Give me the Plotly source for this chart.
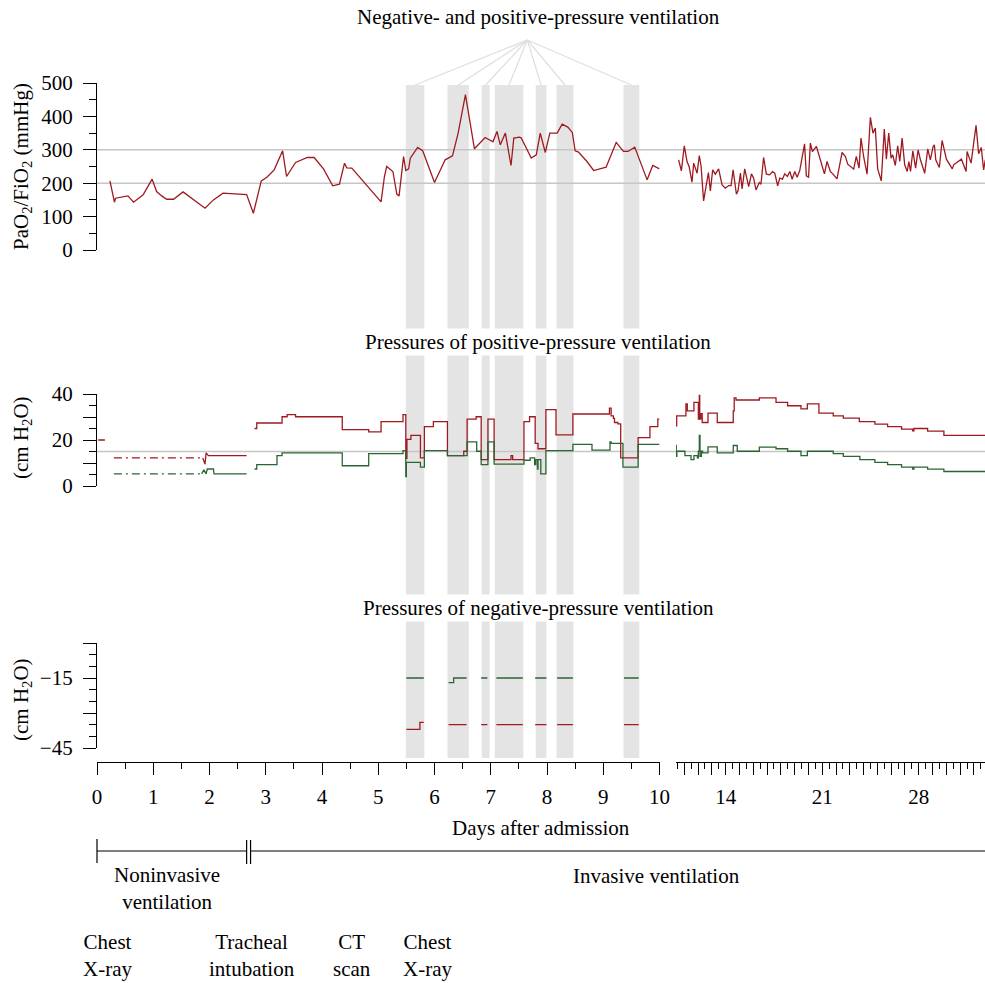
import plotly.graph_objects as go

W, H = 985, 983

# ---------------- data ----------------
# negative-pressure ventilation sessions (days)
np_start = [5.49, 6.23, 6.84, 7.07, 7.80, 8.17, 9.36]
np_end   = [5.82, 6.61, 6.98, 7.58, 7.99, 8.47, 9.64]

# PaO2/FiO2, days 0-10
pf_day_a = [0.23, 0.31, 0.33, 0.55, 0.65, 0.82, 0.98, 1.06, 1.15, 1.24, 1.36, 1.53, 1.92, 2.07, 2.24,
            2.66, 2.78, 2.92, 3.02, 3.15, 3.30, 3.37, 3.53, 3.74, 3.86, 4.03, 4.19, 4.31, 4.40, 4.44,
            4.53, 5.05, 5.11, 5.15, 5.26, 5.33, 5.37, 5.45, 5.49, 5.54, 5.57, 5.70, 5.79, 6.00, 6.19,
            6.32, 6.42, 6.55, 6.71, 6.90, 7.04, 7.11, 7.17, 7.26, 7.36, 7.41, 7.51, 7.54, 7.72, 7.81,
            7.88, 7.97, 8.05, 8.18, 8.27, 8.37, 8.45, 8.50, 8.56, 8.71, 8.83, 8.94, 9.05, 9.23, 9.36,
            9.44, 9.56, 9.78, 9.88, 10.0]
pf_val_a = [207, 143, 155, 162, 143, 165, 212, 175, 162, 152, 152, 174, 125, 150, 170,
            166, 110, 207, 218, 240, 297, 220, 262, 277, 277, 242, 192, 197, 260, 246,
            245, 144, 220, 250, 235, 167, 162, 280, 238, 243, 275, 307, 297, 202, 270,
            282, 350, 465, 303, 337, 324, 355, 315, 350, 253, 335, 338, 336, 275, 285,
            350, 292, 350, 350, 377, 368, 352, 297, 293, 265, 238, 242, 248, 322, 295,
            295, 308, 210, 253, 243]

# PaO2/FiO2, days 10-33
pf_day_b = [10.59, 10.79, 11.0, 11.2, 11.35, 11.56, 11.68, 11.93, 12.09, 12.22, 12.4, 12.6, 12.75, 12.89,
            13.06, 13.25, 13.49, 13.74, 13.98, 14.22, 14.39, 14.54, 14.78, 14.9, 15.07, 15.19, 15.38,
            15.67, 15.87, 16.03, 16.2, 16.44, 16.56, 16.75, 16.95, 17.19, 17.39, 17.56, 17.77, 17.92,
            18.12, 18.28, 18.48, 18.65, 18.82, 19.01, 19.18, 19.37, 19.72, 19.85, 20.01, 20.14, 20.29,
            20.58, 21.16, 21.35, 21.59, 21.83, 22.07, 22.44, 22.68, 22.85, 23.28, 23.47, 23.67, 23.81,
            24.0, 24.25, 24.49, 24.68, 24.85, 25.02, 25.28, 25.5, 25.65, 25.82, 25.99, 26.11, 26.3,
            26.47, 26.62, 26.79, 26.98, 27.16, 27.28, 27.4, 27.57, 27.77, 27.95, 28.12, 28.43, 28.65,
            28.84, 29.04, 29.13, 29.23, 29.49, 29.69, 30.0, 30.43, 30.53, 31.09, 31.43, 31.5, 31.79,
            32.15, 32.34, 32.53, 32.7, 32.82]
pf_val_b = [270, 237, 312, 265, 250, 203, 260, 230, 283, 250, 147, 200, 232, 177,
            240, 227, 243, 195, 185, 193, 193, 240, 167, 178, 230, 183, 243,
            190, 228, 215, 180, 202, 197, 277, 227, 225, 235, 230, 192, 215,
            212, 228, 220, 235, 212, 235, 218, 238, 318, 222, 218, 320, 295,
            310, 228, 265, 235, 225, 213, 292, 280, 257, 242, 280, 245, 335,
            280, 227, 397, 350, 365, 243, 207, 362, 272, 350, 275, 285, 253,
            312, 265, 335, 255, 235, 265, 235, 297, 245, 300, 270, 230, 303,
            270, 310, 315, 270, 247, 328, 272, 243, 255, 272, 235, 295, 260,
            373, 288, 307, 240, 270]

# positive-pressure ventilation: noninvasive period (dash-dot part, then solid part)
ni_day_dash = [0.30, 1.88]
ni_red_dash = [12.2, 12.2]
ni_grn_dash = [5.3, 5.3]
ni_red_day = [1.88, 1.92, 1.94, 1.98, 2.66]
ni_red_val = [12.2, 9.5, 14.4, 13.2, 13.2]
ni_grn_day = [1.86, 1.90, 1.94, 1.96, 2.07, 2.08, 2.66]
ni_grn_val = [5.3, 7.0, 5.3, 7.4, 7.4, 5.3, 5.3]
first_day = [0.02, 0.14]
first_red = [20, 20]

# positive-pressure ventilation, invasive, days 2.8-10 (step values)
pp_red_day_a = [2.80, 2.84, 3.29, 3.38, 3.53, 4.36, 4.83, 5.05, 5.44, 5.49, 5.51, 5.58, 5.75, 5.82,
                5.98, 6.23, 6.52, 6.58, 6.74, 6.83, 6.95, 7.06, 7.36, 7.39, 7.59, 7.69, 7.79, 7.84,
                7.98, 8.16, 8.46, 9.11, 9.14, 9.18, 9.20, 9.26, 9.31, 9.62, 9.83, 9.97, 10.0]
pp_red_val_a = [25, 27.4, 30.1, 31.0, 30.1, 24.5, 23.5, 28.0, 31.0, 12.0, 20.3, 22.0, 12.2, 25.8,
                28.0, 13.2, 15.1, 29.1, 30.1, 11.5, 29.1, 11.5, 13.2, 11.5, 28.0, 30.1, 18.5, 16.2,
                33.2, 22.2, 31.3, 33.9, 30.5, 29.4, 27.6, 27.0, 12.2, 21.0, 25.8, 29.1, 29.1]
pp_grn_day_a = [2.80, 2.84, 3.20, 3.29, 4.36, 4.83, 5.21, 5.44, 5.49, 5.50, 5.75, 5.82, 6.23, 6.58,
                6.75, 6.83, 6.95, 7.06, 7.59, 7.70, 7.78, 7.80, 7.83, 7.84, 7.89, 7.98, 8.46, 8.80,
                9.12, 9.14, 9.35, 9.62, 10.0]
pp_grn_val_a = [7.4, 9.3, 13.2, 14.4, 8.8, 14.1, 14.1, 15.4, 4.1, 10.3, 8.2, 15.4, 13.2, 19.2,
                15.1, 9.3, 19.2, 9.5, 11.2, 12.2, 9.3, 11.5, 7.3, 11.5, 5.3, 15.4, 18.1, 15.6,
                19.2, 18.5, 8.2, 18.1, 18.1]

# positive-pressure ventilation, days 10-33 (step values)
pp_red_day_b = [10.40, 10.45, 11.12, 11.22, 11.70, 12.02, 12.09, 12.12, 12.20, 12.30, 12.72, 13.39,
                14.55, 14.62, 14.75, 16.44, 17.65, 18.49, 19.46, 19.92, 20.76, 21.80, 22.53, 23.69,
                24.82, 25.74, 26.75, 27.55, 27.65, 28.64, 29.82, 32.8]
pp_red_val_b = [26.1, 30.5, 35.7, 32.7, 36.4, 29.1, 39.4, 29.1, 31.5, 27.6, 31.7, 27.6,
                32.7, 38.3, 37.4, 38.3, 36.4, 34.9, 33.5, 35.7, 31.7, 30.5, 29.5, 28.0,
                26.9, 25.8, 24.7, 24.0, 25.0, 23.9, 22.0, 22.0]
pp_grn_day_b = [10.40, 10.42, 10.46, 11.05, 11.49, 11.70, 11.95, 12.02, 12.09, 12.14, 12.24, 12.33,
                12.72, 13.39, 14.55, 14.84, 16.44, 17.65, 18.49, 19.46, 19.92, 21.80, 22.53, 23.73,
                24.82, 25.74, 26.75, 27.55, 27.65, 28.64, 29.82, 32.8]
pp_grn_val_b = [17.6, 12.9, 15.1, 13.2, 11.5, 13.2, 12.2, 15.1, 22.0, 12.9, 15.1, 14.4,
                17.0, 14.4, 17.6, 15.1, 16.9, 16.2, 15.1, 13.2, 15.1, 14.1, 12.9, 11.5,
                10.3, 9.3, 8.2, 7.3, 8.2, 7.3, 6.3, 6.3]

# negative-pressure ventilation pressures (None = pause)
neg_red_day = [5.50, 5.74, 5.81, None, 6.25, 6.57, None, 6.83, 6.94, None, 7.10, 7.57, None,
               7.79, 7.99, None, 8.18, 8.46, None, 9.37, 9.63]
neg_red_val = [-37, -34, -34, None, -35, -35, None, -35, -35, None, -35, -35, None,
               -35, -35, None, -35, -35, None, -35, -35]
neg_grn_day = [5.50, 5.81, None, 6.25, 6.34, 6.57, None, 6.83, 6.94, None, 7.10, 7.57, None,
               7.79, 7.99, None, 8.18, 8.46, None, 9.37, 9.63]
neg_grn_val = [-15, -15, None, -17, -15, -15, None, -15, -15, None, -15, -15, None,
               -15, -15, None, -15, -15, None, -15, -15]

pf_ref = [200, 300]
pp_ref = [15]

left_ticks = list(range(0, 11))
right_labels = [14, 21, 28]

events = [(0.18, "Chest<br>X-ray"), (2.76, "Tracheal<br>intubation"),
          (4.54, "CT<br>scan"), (5.87, "Chest<br>X-ray")]
nonivs_end, ivs_start = 2.66, 2.73

# ---------------- layout helpers ----------------
def px(x):
    return x / W

def py(y):
    return 1 - y / H

XL = [px(97), px(659.5)]
XR = [px(676), 1.0]
XL_RANGE = [0, 10]
XR_RANGE = [10.4, 32.8]

def day_to_paper(d):
    return XL[0] + (d - XL_RANGE[0]) / (XL_RANGE[1] - XL_RANGE[0]) * (XL[1] - XL[0])

RED = '#9e1a20'
GRN = '#2b6531'
FONT = 'Liberation Serif'
FS = 21

fig = go.Figure()

def line(x, y, xa, ya, color, dash='solid', shape='linear', width=1.3):
    fig.add_trace(go.Scatter(x=x, y=y, xaxis=xa, yaxis=ya, mode='lines',
                             line=dict(color=color, width=width, dash=dash, shape=shape),
                             hoverinfo='skip', showlegend=False))

# top panel
line(pf_day_a, pf_val_a, 'x', 'y', RED)
line(pf_day_b, pf_val_b, 'x2', 'y', RED)
# middle panel
line(first_day, first_red, 'x', 'y2', RED)
line(ni_day_dash, ni_red_dash, 'x', 'y2', RED, dash='8px,4px,2px,4px')
line(ni_day_dash, ni_grn_dash, 'x', 'y2', GRN, dash='8px,4px,2px,4px')
line(ni_red_day, ni_red_val, 'x', 'y2', RED)
line(ni_grn_day, ni_grn_val, 'x', 'y2', GRN)
line(pp_red_day_a, pp_red_val_a, 'x', 'y2', RED, shape='hv')
line(pp_grn_day_a, pp_grn_val_a, 'x', 'y2', GRN, shape='hv')
line(pp_red_day_b, pp_red_val_b, 'x2', 'y2', RED, shape='hv')
line(pp_grn_day_b, pp_grn_val_b, 'x2', 'y2', GRN, shape='hv')
# bottom panel
line(neg_red_day, neg_red_val, 'x', 'y3', RED, shape='hv')
line(neg_grn_day, neg_grn_val, 'x', 'y3', GRN, shape='hv')

# ---------------- shapes ----------------
shapes = []
bar_top, bar_bot = py(85), py(758)
for s, e in zip(np_start, np_end):
    shapes.append(dict(type='rect', xref='x', yref='paper', x0=s, x1=e, y0=bar_bot, y1=bar_top,
                       fillcolor='#e4e4e4', line=dict(width=0), layer='below'))
# fan lines from title to bars
apex_day = 7.65
for s, e in zip(np_start, np_end):
    shapes.append(dict(type='line', xref='x', yref='paper', x0=apex_day, y0=py(40),
                       x1=(s + e) / 2, y1=bar_top, line=dict(color='#dedede', width=1.2), layer='below'))
# reference lines
for v in pf_ref:
    shapes.append(dict(type='line', xref='paper', yref='y', x0=XL[0], x1=1, y0=v, y1=v,
                       line=dict(color='#c6c6c6', width=1.5), layer='below'))
for v in pp_ref:
    shapes.append(dict(type='line', xref='paper', yref='y2', x0=XL[0], x1=1, y0=v, y1=v,
                       line=dict(color='#c6c6c6', width=1.5), layer='below'))
# timeline
ty = py(851)
tl = dict(color='black', width=1.2)
shapes += [
    dict(type='line', xref='paper', yref='paper', x0=day_to_paper(0), x1=day_to_paper(nonivs_end),
         y0=ty, y1=ty, line=tl),
    dict(type='line', xref='paper', yref='paper', x0=day_to_paper(0), x1=day_to_paper(0),
         y0=py(839), y1=py(863), line=tl),
    dict(type='line', xref='paper', yref='paper', x0=day_to_paper(nonivs_end), x1=day_to_paper(nonivs_end),
         y0=py(840), y1=py(864), line=tl),
    dict(type='line', xref='paper', yref='paper', x0=day_to_paper(ivs_start), x1=day_to_paper(ivs_start),
         y0=py(840), y1=py(864), line=tl),
    dict(type='line', xref='paper', yref='paper', x0=day_to_paper(ivs_start), x1=1,
         y0=ty, y1=ty, line=tl),
]

# ---------------- annotations ----------------
ann = []
def text(x, y, t, size=FS, xref='paper', bg=None, angle=0, xanchor='center', yanchor='middle'):
    d = dict(x=x, y=y, xref=xref, yref='paper', text=t, showarrow=False, textangle=angle,
             font=dict(family=FONT, size=size, color='black'), xanchor=xanchor, yanchor=yanchor)
    if bg:
        d['bgcolor'] = bg
        d['borderpad'] = 1
    ann.append(d)

text(px(538), py(17), 'Negative- and positive-pressure ventilation', bg='white')
text(px(538), py(342), 'Pressures of positive-pressure ventilation', bg='white')
text(px(538), py(608), 'Pressures of negative-pressure ventilation', bg='white')
text(px(22), py(167), 'PaO<sub>2</sub>/FiO<sub>2</sub> (mmHg)', angle=-90)
text(px(22), py(438), '(cm H<sub>2</sub>O)', angle=-90)
text(px(22), py(700), '(cm H<sub>2</sub>O)', angle=-90)
text(px(541), py(828), 'Days after admission')
text(day_to_paper(1.25), py(888), 'Noninvasive<br>ventilation')
text(px(656), py(876), 'Invasive ventilation')
for d, t in events:
    text(day_to_paper(d), py(955), t)

# ---------------- axes ----------------
axis_common = dict(showline=True, linecolor='black', linewidth=1.3, ticks='outside', tickcolor='black',
                   tickwidth=1.3, showgrid=False, zeroline=False, automargin=False,
                   tickfont=dict(family=FONT, size=FS, color='black'), fixedrange=True)

fig.update_layout(
    width=W, height=H, margin=dict(l=0, r=0, t=0, b=0),
    paper_bgcolor='white', plot_bgcolor='rgba(0,0,0,0)', showlegend=False,
    shapes=shapes, annotations=ann,
    xaxis=dict(domain=XL, range=XL_RANGE, anchor='free', position=py(762),
               tickvals=left_ticks, ticklen=12, ticklabelstandoff=4,
               minor=dict(tickvals=[t + 0.5 for t in left_ticks[:-1]], ticklen=6, ticks='outside',
                          tickcolor='black', tickwidth=1.3),
               **axis_common),
    xaxis2=dict(domain=XR, range=XR_RANGE, anchor='free', position=py(762),
                tickvals=list(range(11, 33)),
                ticktext=[str(t) if t in right_labels else '' for t in range(11, 33)], ticklen=12,
                ticklabelstandoff=4,
                minor=dict(tickvals=[t + 0.5 for t in range(10, 33)], ticklen=6, ticks='outside',
                           tickcolor='black', tickwidth=1.3),
                **axis_common),
    yaxis=dict(domain=[py(250), py(83)], range=[0, 500], anchor='x', tickvals=list(range(0, 501, 100)),
               ticklen=13, ticklabelstandoff=6,
               minor=dict(tickvals=list(range(50, 500, 100)), ticklen=7, ticks='outside',
                          tickcolor='black', tickwidth=1.3),
               **axis_common),
    yaxis2=dict(domain=[py(486), py(394)], range=[0, 40], anchor='x', tickvals=[0, 10, 20, 30, 40],
                ticktext=['0', '', '20', '', '40'], ticklen=13, ticklabelstandoff=6,
                minor=dict(tickvals=[5, 15, 25, 35], ticklen=7, ticks='outside', tickcolor='black',
                           tickwidth=1.3),
                **axis_common),
    yaxis3=dict(domain=[py(748), py(643)], range=[-45, 0], anchor='x', tickvals=[-45, -30, -15, 0],
                ticktext=['\u221245', '', '\u221215', ''], ticklen=13, ticklabelstandoff=6,
                minor=dict(tickvals=[-40, -35, -25, -20, -10, -5], ticklen=7, ticks='outside',
                           tickcolor='black', tickwidth=1.3),
                **axis_common),
)

fig.write_html("out.html", config={'displayModeBar': False},
               post_script="document.body.style.margin='0';")
